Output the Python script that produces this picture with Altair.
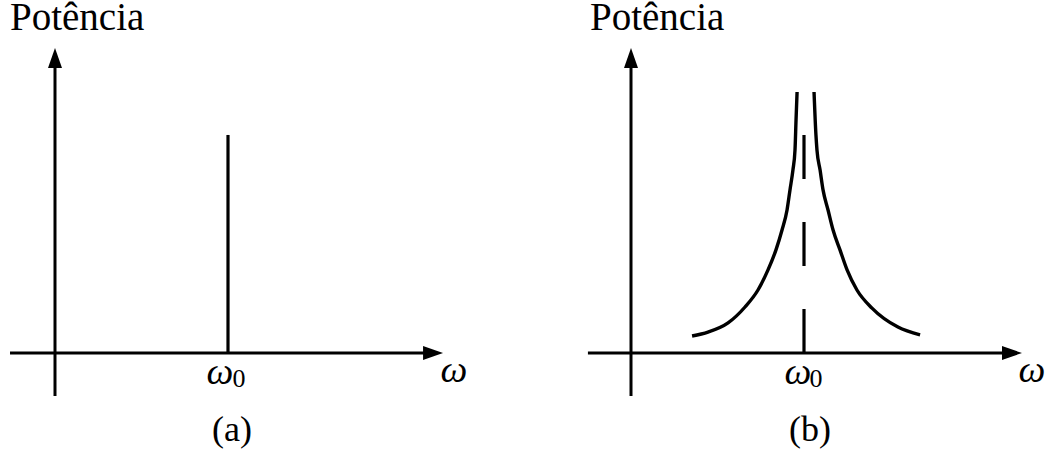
import altair as alt
import pandas as pd

# Both panels share one 1048 x 452 canvas; each has its own omega scale.
# Horizontal unit: omega_0 (position of the line). Vertical unit: height of the line in (a).
CANVAS_W = 1048
CANVAS_H = 452
X_DOMAIN_A = [-0.3179, 5.7399]
X_DOMAIN_B = [-3.6474, 2.4104]
Y_DOMAIN = [-0.454, 1.619]

# Axis lines (start/end of the frequency axis and of the power axis)
freq_axis_a = [-0.260, 2.18]
freq_axis_b = [-0.249, 2.20]
freq_arrow_tip_a = 2.243
freq_arrow_tip_b = 2.260
power_axis = [-0.197, 1.33]
power_arrow_tip = 1.399

# (a) a single sharp line at omega_0
omega0 = 1.0
line_height = 1.0

# (b) broadened line: left and right branches as (omega, power)
left_omega = [0.353, 0.445, 0.561, 0.659, 0.734, 0.792, 0.838, 0.873, 0.902, 0.919,
              0.936, 0.948, 0.954, 0.960]
left_power = [0.078, 0.096, 0.138, 0.211, 0.289, 0.381, 0.473, 0.564, 0.656, 0.748,
              0.839, 0.931, 1.069, 1.197]
right_omega = [1.058, 1.069, 1.075, 1.093, 1.110, 1.139, 1.168, 1.208, 1.249, 1.306,
               1.393, 1.543, 1.671]
right_power = [1.197, 1.000, 0.931, 0.839, 0.748, 0.656, 0.564, 0.473, 0.381, 0.289,
               0.206, 0.119, 0.083]

# Labels
y_title = "Potência"
x_title = "ω"
tick_symbol = "ω"
tick_sub = "0"
panel_tags = ["(a)", "(b)"]

FONT = "Liberation Serif"
INK = "#000000"

ARROW_RIGHT = "M 0 0 L -1 -0.35 L -1 0.35 Z"
ARROW_UP = "M 0 0 L -0.35 1 L 0.35 1 Z"


def label(x, y, text, size, xs, ys, italic=False, align="center"):
    kw = dict(font=FONT, fontSize=size, align=align)
    if italic:
        kw["fontStyle"] = "italic"
    return alt.Chart(pd.DataFrame({"x": [x], "y": [y], "t": [text]})).mark_text(**kw).encode(
        x=alt.X("x:Q", scale=xs, axis=None),
        y=alt.Y("y:Q", scale=ys, axis=None),
        text="t:N",
    )


def panel(x_domain, freq_axis, freq_tip, tag, dashed, title_x, xlabel_x, sym_x, sub_x, tag_x):
    xs = alt.Scale(domain=x_domain, nice=False, zero=False)
    ys = alt.Scale(domain=Y_DOMAIN, nice=False, zero=False)
    X = lambda f: alt.X(f, type="quantitative", scale=xs, axis=None)
    Y = lambda f: alt.Y(f, type="quantitative", scale=ys, axis=None)

    axes_df = pd.DataFrame({
        "x": [freq_axis[0], 0.0],
        "x2": [freq_axis[1], 0.0],
        "y": [0.0, power_axis[0]],
        "y2": [0.0, power_axis[1]],
    })
    axes = alt.Chart(axes_df).mark_rule(color=INK, strokeWidth=3).encode(
        x=X("x"), x2="x2", y=Y("y"), y2="y2"
    )

    head_r = alt.Chart(pd.DataFrame({"x": [freq_tip], "y": [0.0]})).mark_point(
        shape=ARROW_RIGHT, size=1600, filled=True, fill=INK, strokeWidth=0, opacity=1
    ).encode(x=X("x"), y=Y("y"))
    head_u = alt.Chart(pd.DataFrame({"x": [0.0], "y": [power_arrow_tip]})).mark_point(
        shape=ARROW_UP, size=1600, filled=True, fill=INK, strokeWidth=0, opacity=1
    ).encode(x=X("x"), y=Y("y"))

    peak_df = pd.DataFrame({"x": [omega0], "y": [line_height], "y2": [0.0]})
    if dashed:
        peak = alt.Chart(peak_df).mark_rule(color=INK, strokeWidth=3.2, strokeDash=[44, 43])
    else:
        peak = alt.Chart(peak_df).mark_rule(color=INK, strokeWidth=3.2)
    peak = peak.encode(x=X("x"), y=Y("y"), y2="y2")

    layers = [axes, head_r, head_u, peak]

    if dashed:
        curve_df = pd.DataFrame({
            "omega": left_omega + right_omega,
            "power": left_power + right_power,
            "branch": ["left"] * len(left_omega) + ["right"] * len(right_omega),
        })
        curve = alt.Chart(curve_df).mark_line(
            color=INK, strokeWidth=3.4, interpolate="monotone", strokeCap="butt"
        ).encode(x=X("omega"), y=Y("power"), detail="branch:N")
        layers.append(curve)

    # text marks sit on their middle line: offsets below are for the glyph centres
    layers += [
        label(title_x, 1.535, y_title, 39, xs, ys, align="left"),
        label(xlabel_x, -0.083, x_title, 38, xs, ys, italic=True),
        label(sym_x, -0.092, tick_symbol, 38, xs, ys, italic=True),
        label(sub_x, -0.117, tick_sub, 26, xs, ys),
        label(tag_x, -0.353, tag, 36, xs, ys),
    ]
    return alt.layer(*layers)


panel_a = panel(X_DOMAIN_A, freq_axis_a, freq_arrow_tip_a, panel_tags[0], False,
                -0.260, 2.306, 0.954, 1.064, 1.023)
panel_b = panel(X_DOMAIN_B, freq_axis_b, freq_arrow_tip_b, panel_tags[1], True,
                -0.237, 2.318, 0.965, 1.069, 1.035)

chart = alt.layer(panel_a, panel_b).resolve_scale(x="independent").properties(
    width=CANVAS_W, height=CANVAS_H, padding=0,
    autosize=alt.AutoSizeParams(type="none"),
).configure_view(stroke=None)

chart.save("out.html", embed_options={"renderer": "svg", "actions": False})
